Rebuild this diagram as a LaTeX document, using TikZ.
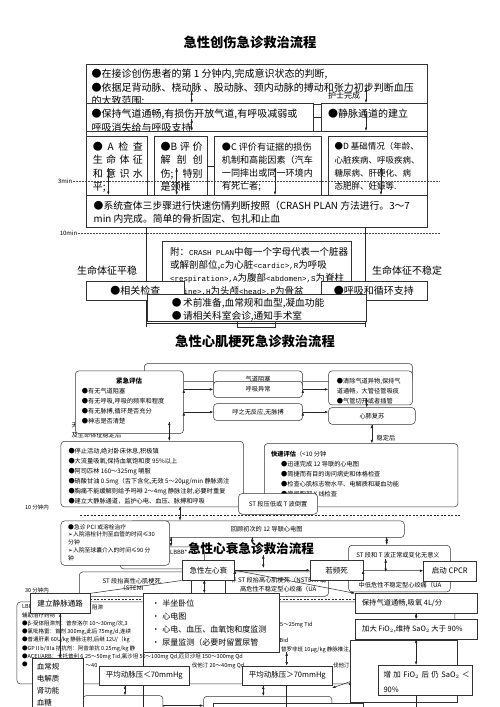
\documentclass[tikz,border=0pt]{standalone}
\usepackage{fontspec}
\setmainfont{Noto Sans CJK SC}
\newfontfamily\monof{Liberation Mono}
\newfontfamily\symf{DejaVu Sans}
\usepackage{tikz}
\usetikzlibrary{arrows.meta}

\newcommand{\tri}{{\symf ➢}}
\newcommand{\spread}[2]{\makebox[#1][s]{#2}}
\newcommand{\cm}[1]{{\monof\fontsize{7.5}{13.2}\selectfont #1}}

\tikzset{
	sq/.style={draw=black!80, fill=white, line width=0.5pt, inner sep=0pt, anchor=north west},
	rd/.style={sq, rounded corners=3.5pt},
	tx/.style={inner sep=0pt, anchor=north west, align=left},
	lbl/.style={inner sep=0pt},
	ttl/.style={inner sep=0pt, font=\fontsize{13.3}{16}\selectfont\bfseries},
	wire/.style={line width=0.5pt, draw=black!85},
	dotrule/.style={densely dotted, line width=0.5pt, draw=black!70},
	fa/.style={font=\fontsize{10}{13.4}\selectfont},
	fc/.style={font=\fontsize{9.1}{13.3}\selectfont},
	fd/.style={font=\fontsize{8.5}{13.3}\selectfont},
	fm/.style={font=\fontsize{9.5}{13.2}\selectfont},
	fs/.style={font=\fontsize{6.2}{10}\selectfont},
	fp/.style={font=\fontsize{5.8}{7.7}\selectfont},
	ft/.style={font=\fontsize{5.5}{8.3}\selectfont},
	fh/.style={font=\fontsize{7.5}{9}\selectfont},
}

\begin{document}
\begin{tikzpicture}[x=1pt, y=-1pt, >={Latex[length=3.5pt,width=2.6pt]}]
	\useasboundingbox[fill=white] (0,0) rectangle (500,707);

	\node[ttl] (ttl1) at (250, 42) {急性创伤急诊救治流程};

	\node[sq, minimum width=340.7pt, minimum height=40pt] (first) at (86, 64.3) {};
	\node[tx, fa] (firstT) at (91.5, 69) {●在接诊创伤患者的第 1 分钟内,完成意识状态的判断,\\●依据足背动脉、桡动脉 、股动脉、颈内动脉的搏动和张力初步判断血压\\的大致范围;};
	\node[lbl, font=\fontsize{8}{10}\selectfont] (nurse) at (344, 95.5) {护士完成};

	\node[sq, minimum width=227pt, minimum height=28.5pt] (airway) at (86, 103) {};
	\node[tx, fa] (airwayT) at (91.5, 109) {●保持气道通畅,有损伤开放气道,有呼吸减弱或\\呼吸消失给与呼吸支持};
	\node[sq, minimum width=106pt, minimum height=28pt] (vein) at (320.7, 103) {};
	\node[tx, fa] (veinT) at (328, 109) {●静脉通道的建立};

	\node[sq, minimum width=340.7pt, minimum height=64pt] (row) at (86, 131) {};

	\node[sq, minimum width=60.7pt, minimum height=59pt] (boxA) at (86, 136) {};
	\node[tx, fa] (boxAT) at (92.7, 141.7) {\spread{50pt}{● A 检 查}\\\spread{50pt}{生 命 体 征}\\\spread{50pt}{和 意 识 水}\\平;};
	\node[sq, minimum width=52.7pt, minimum height=59pt] (boxB) at (154, 136) {};
	\node[tx, fa] (boxBT) at (160.5, 141.7) {\spread{42pt}{●B 评 价}\\\spread{42pt}{解 剖 创}\\\spread{42pt}{伤; 特别}\\是颈椎};
	\node[sq, minimum width=106.7pt, minimum height=59pt] (boxC) at (214, 136) {};
	\node[tx, fc] (boxCT) at (221.7, 142.2) {●C 评价有证据的损伤\\机制和高能因素（汽车\\一同摔出或同一环境内\\有死亡者;};
	\node[sq, minimum width=98.7pt, minimum height=59pt] (boxD) at (328, 136) {};
	\node[tx, fd] (boxDT) at (334.3, 142.5) {●D 基础情况（年龄、\\心脏疾病、呼吸疾病、\\糖尿病、肝硬化、病\\态肥胖、妊娠等.};

	\node[sq, minimum width=340.7pt, minimum height=31.7pt] (survey) at (86, 195) {};
	\node[tx, font=\fontsize{9.8}{13.3}\selectfont] (surveyT) at (93.5, 201) {●系统查体三步骤进行快速伤情判断按照（CRASH PLAN 方法进行。3～7\\min 内完成。简单的骨折固定、包扎和止血};

	\coordinate (e1) at (146.7, 327);
	\coordinate (e2) at (365.7, 327);
	\coordinate (b1) at (146.7, 323);
	\coordinate (b2) at (365.7, 323);
	\draw[wire] (survey.south -| e1) -- (e1);
	\draw[wire] (survey.south -| e2) -- (e2);
	\node[sq, minimum width=37.7pt, minimum height=8.5pt] (tip) at (237.3, 318) {};

	\node[sq, minimum width=189pt, minimum height=55pt] (crash) at (161.7, 241) {};
	\node[tx, fm] (crashT) at (170, 247) {附：\cm{CRASH PLAN}中每一个字母代表一个脏器\\或解剖部位,\cm{c}为心脏\cm{<cardic>,R}为呼吸\\\cm{<respiration>,A}为腹部\cm{<abdomen>,S}为脊柱\\\cm{<spine>,H}为头颅\cm{<head>,P}为骨盆};

	\node[lbl, fa] (stable) at (107, 271) {生命体征平稳};
	\node[lbl, fa] (unstable) at (407, 271) {生命体征不稳定};

	\node[sq, fa, minimum width=98.3pt, minimum height=19.3pt] (check) at (86, 280.7) {●相关检查};
	\node[sq, fa, minimum width=106pt, minimum height=19.3pt] (support) at (320.7, 280.7) {●呼吸和循环支持};

	\node[sq, minimum width=219pt, minimum height=27pt] (preop) at (146.7, 294) {};
	\node[tx, font=\fontsize{9.7}{12.7}\selectfont] (preopT) at (171.7, 298.4) {●\hspace{1.5pt}术前准备,血常规和血型,凝血功能\\●\hspace{1.5pt}请相关科室会诊,通知手术室};
	\draw[wire] (b1) -- (b2);

	\coordinate (p1) at (191.7, 91);
	\coordinate (p2) at (366, 88);
	\coordinate (q1) at (191.7, 119);
	\coordinate (q2) at (366, 113);
	\coordinate (a1) at (108.3, 168);
	\coordinate (a2) at (176.7, 168);
	\coordinate (a3) at (275, 168);
	\coordinate (a4) at (381, 168);
	\path[->, wire] (p1) edge (p1 |- airway.north);
	\path[->, wire] (p2) edge (p2 |- vein.north);
	\path[->, wire] (q1) edge (q1 |- row.north);
	\path[->, wire] (q2) edge (q2 |- row.north);
	\path[->, wire] (a1) edge (a1 |- survey.north);
	\path[->, wire] (a2) edge (a2 |- survey.north);
	\path[->, wire] (a3) edge (a3 |- survey.north);
	\path[->, wire] (a4) edge (a4 |- survey.north);
	\path[wire] (airway.east) edge (airway.east -| vein.west);
	\path[wire] (boxB.east) edge (boxB.east -| boxC.west);

	\node[lbl, font=\fontsize{6}{7}\selectfont, anchor=east] (min3) at (72.5, 181) {3min};
	\coordinate (d3) at (440, 181);
	\draw[dotrule] (min3.east) -- (d3);
	\node[lbl, font=\fontsize{6}{7}\selectfont, anchor=east] (min10) at (77.5, 233.3) {10min};
	\coordinate (d10) at (440, 233.3);
	\draw[dotrule] (min10.east) -- (d10);

	\node[ttl] (ttl2) at (255, 341.7) {急性心肌梗死急诊救治流程};

	\node[rd, minimum width=268.3pt, minimum height=18pt] (loop) at (144, 363.3) {};
	\node[lbl, fs, anchor=west] (none) at (71.5, 425) {无};
	\node[lbl, fs, anchor=west] (after) at (71.5, 435) {及生命体征稳定后};
	\node[rd, minimum width=108.3pt, minimum height=62.6pt] (urgent) at (75, 370.7) {};
	\node[lbl, font=\fontsize{6.5}{8}\selectfont\bfseries] (urgentH) at (129, 381) {紧急评估};
	\node[tx, fs] (urgentT) at (81.7, 388) {●有无气道阻塞\\●有无呼吸,呼吸的频率和程度\\●有无脉搏,循环是否充分\\●神志是否清楚};
	\node[rd, fs, minimum width=89pt, minimum height=17pt] (blocked) at (213.3, 370.7) {气道阻塞};
	\node[rd, fs, minimum width=89pt, minimum height=16.3pt] (breath) at (213.3, 381) {呼吸异常};
	\node[rd, fs, minimum width=89pt, minimum height=17pt] (nopulse) at (213.3, 403.3) {呼之无反应,无脉搏};
	\node[rd, minimum width=84pt, minimum height=34pt] (clear) at (328.3, 370.7) {};
	\node[tx, fs] (clearT) at (336.7, 378) {●清除气道异物,保持气\\道通畅，大管径管吸痰\\●气管切开或者插管};
	\node[rd, fs, minimum width=86.7pt, minimum height=16.7pt] (cpr) at (328.3, 407.3) {心肺复苏};

	\path[->, wire] (breath.west -| urgent.east) edge (breath.west);
	\path[->, wire] (breath.east) edge (breath.east -| clear.west);
	\path[->, wire] (nopulse.west -| urgent.east) edge (nopulse.west);
	\path[->, wire] (nopulse.east) edge (nopulse.east -| cpr.west);
	\coordinate (c0) at (366.7, 398);
	\path[->, wire] (c0) edge (c0 |- cpr.north);

	\node[rd, minimum width=182.6pt, minimum height=65.7pt] (stop) at (60.7, 441) {};
	\node[tx, fs] (stopT) at (68.3, 448) {●停止活动,绝对卧床休息,积极镇\\●大流量吸氧,保持血氧饱和度 95\%以上\\●阿司匹林 160～325mg 嚼服\\●硝酸甘油 0.5mg（舌下含化,无效 5～20μg/min 静脉滴注\\●胸痛不能缓解则给予吗啡 2～4mg 静脉注射,必要时重复\\●建立大静脉通道，监护心电、血压、脉搏和呼吸};
	\node[rd, minimum width=193.7pt, minimum height=63.4pt] (rapid) at (264, 443.3) {};
	\node[tx, fs] (rapidT) at (271, 451.2) {{\bfseries 快速评估}（<10 分钟\\\hspace*{10pt}●迅速完成 12 导联的心电图\\\hspace*{10pt}●简捷而有目的询问病史和体格检查\\\hspace*{10pt}●检查心肌标志物水平、电解质和凝血功能\\\hspace*{10pt}●常规胸部 X 线检查};
	\node[rd, fs, minimum width=79pt, minimum height=20.7pt] (stdown) at (238.3, 493.3) {ST 段压低或 T 波倒置};

	\coordinate (u0) at (169.3, 421.7);
	\path[->, wire] (u0) edge (u0 |- stop.north);
	\path[->, wire] (cpr.south) edge (cpr.south |- rapid.north);
	\node[lbl, fs] (calm) at (386, 437.7) {稳定后};

	\node[lbl, ft] (in10) at (37, 507.3) {10 分钟内};
	\coordinate (h1) at (80, 515);
	\coordinate (h2) at (460, 515);
	\draw[wire, dash pattern=on 2pt off 1.5pt] (h1) -- (h2);

	\node[rd, fs, minimum width=275pt, minimum height=16.6pt] (review) at (129, 520.7) {回顾初次的 12 导联心电图};
	\node[rd, minimum width=84pt, minimum height=22pt] (lbbb) at (120, 546.7) {};
	\node[lbl, font=\fontsize{5.8}{7}\selectfont, anchor=west] (lbbbT) at (170, 552) {LBBB*};
	\node[rd, minimum width=108.6pt, minimum height=44.3pt] (pci) at (60.7, 520.7) {};
	\node[tx, fp] (pciT) at (68, 524.1) {●急诊 PCI 或溶栓治疗\\\tri 入院溶栓针剂至血管的时间≤30\\分钟\\\tri 入院至球囊介入的时间≤90 分\\钟};

	\node[rd, minimum width=101.7pt, minimum height=46.7pt] (stnorm) at (348.3, 545) {};
	\node[lbl, fs] (stnormT) at (398, 555) {ST 段和 T 波正常或变化无意义};
	\node[lbl, fs] (uaT) at (400, 585) {中低危性不稳定型心绞痛（UA};

	\node[rd, minimum width=249.3pt, minimum height=24.3pt] (stemi) at (79, 571.7) {};
	\node[lbl, align=center, font=\fontsize{6.2}{7.3}\selectfont] (stemiT) at (131.7, 584.7) {ST 段抬高性心肌梗死\\（STEMI};
	\node[lbl, align=center, font=\fontsize{6.2}{9.3}\selectfont] (nstemiT) at (278.3, 584.7) {非 ST 段抬高心肌梗死（NSTEMI 或\\高危性不稳定型心绞痛（UA};

	\coordinate (s0) at (180, 506.7);
	\coordinate (r1) at (171, 537.3);
	\coordinate (r2) at (252.3, 537.3);
	\coordinate (r2e) at (252.3, 544);
	\coordinate (r3) at (386.7, 537.3);
	\coordinate (t1) at (263.3, 555);
	\coordinate (t1e) at (263.3, 568);
	\coordinate (n1) at (385.7, 559);
	\coordinate (n1e) at (385.7, 572);
	\path[->, wire] (s0) edge (s0 |- review.north);
	\path[->, wire] (r1) edge (r1 |- lbbb.north);
	\path[->, wire] (r2) edge (r2e);
	\path[->, wire] (r3) edge (r3 |- stnorm.north);
	\path[->, wire] (t1) edge (t1e);
	\path[->, wire] (n1) edge (n1e);

	\node[rd, minimum width=438pt, minimum height=82pt] (drugs) at (16.7, 601.7) {};
	\node[tx, ft] (drugsT) at (22, 604.5) {LBBB\\辅助治疗药物\\●β-受体阻滞剂：普奈洛尔 10～30mg/次,3\\●氯吡格雷：首剂 300mg,此后 75mg/d,连续\\●普通肝素 60U/kg 静脉注射,后继 12U/（kg\\●GPⅡb/Ⅲa 拮抗剂：阿昔单抗 0.25mg/kg 静\\●ACEI/ARB：卡托普利 6.25～50mg Tid,氯沙坦 50～100mg Qd,厄贝沙坦 150～300mg Qd\\●};
	\node[tx, ft] (block) at (92, 604.5) {阻滞};
	\node[tx, ft] (drugsL) at (85.5, 663) {～40};
	\node[tx, ft] (drugsR1) at (280, 622.2) {5～25mg Tid};
	\node[tx, ft] (drugsR2) at (279.5, 638.3) {Bid};
	\node[tx, ft] (drugsR3) at (281, 646.5) {替罗非班 10μg/kg 静脉推注,继以 0.15μg/（kg·min 维持 48 小时};
	\node[tx, ft] (drugsM) at (191.7, 663) {伐他汀 20～40mg Qd};
	\node[tx, ft] (drugsR4) at (333, 663) {伐他汀};

	\node[sq, minimum width=106.7pt, minimum height=61.7pt] (side) at (350, 640) {};
	\node[lbl, ft] (yes) at (328, 676.7) {是};
	\node[rd, minimum width=80pt, minimum height=20pt] (lowL) at (82.7, 695.3) {};
	\node[rd, minimum width=128.3pt, minimum height=20pt] (lowM) at (203.3, 696) {};
	\node[sq, minimum width=150pt, minimum height=12pt] (lowN) at (213.3, 703.3) {};

	\coordinate (g1) at (90, 600);
	\coordinate (g2) at (355, 600);
	\draw[wire, dash pattern=on 2pt off 1.5pt, double, double distance=1pt] (g1) -- (g2);

	\node[ttl, font=\fontsize{12.6}{16}\selectfont\bfseries] (ttl3) at (251, 548.3) {急性心衰急诊救治流程};

	\node[lbl, ft] (in30) at (37, 590.5) {30 分钟内};
	\node[sq, minimum width=34.3pt, minimum height=21pt] (lhfBack) at (190.7, 575) {};
	\node[sq, fh, minimum width=52.6pt, minimum height=20pt] (lhf) at (181.7, 560) {急性左心衰};
	\node[sq, fh, minimum width=52.7pt, minimum height=20pt] (dying) at (310, 560) {若频死};
	\node[sq, fh, minimum width=52.4pt, minimum height=20pt] (cpcr) at (423.3, 560.5) {启动 CPCR};
	\node[sq, font=\fontsize{7.6}{9}\selectfont, minimum width=60pt, minimum height=19.4pt] (iv) at (30, 593.3) {建立静脉通路};
	\node[sq, minimum width=136pt, minimum height=59pt] (semi) at (143.3, 593.3) {};
	\node[tx, font=\fontsize{8}{13.1}\selectfont] (semiT) at (151.7, 599.3) {•\hspace{2.5pt}半坐卧位\\•\hspace{2.5pt}心电图\\•\hspace{2.5pt}心电、血压、血氧饱和度监测\\•\hspace{2.5pt}尿量监测（必要时留置尿管};
	\node[sq, minimum width=121.7pt, minimum height=19.4pt] (keep) at (355, 593.3) {};
	\node[tx, font=\fontsize{7.3}{9}\selectfont] (keepT) at (361.7, 599.3) {保持气道通畅,吸氧 4L/分};
	\node[sq, minimum width=121.7pt, minimum height=19.7pt] (more) at (355, 619.3) {};
	\node[tx, font=\fontsize{7.3}{9}\selectfont] (moreT) at (362, 625.3) {加大 FiO$_2$,维持 SaO$_2$ 大于 90\%};
	\node[sq, minimum width=51pt, minimum height=60pt] (blood) at (31.7, 658.3) {};
	\node[tx, font=\fontsize{7.5}{12.1}\selectfont] (bloodT) at (36.7, 662.6) {血常规\\电解质\\肾功能\\血糖};

	\coordinate (v1) at (143.3, 707);
	\draw[wire] (semi.south west) -- (v1);
	\node[sq, fh, minimum width=90pt, minimum height=19.3pt] (avgLo) at (99, 665.7) {平均动脉压＜70mmHg};
	\node[sq, fh, minimum width=90.6pt, minimum height=19.3pt] (avgHi) at (241.7, 665.7) {平均动脉压＞70mmHg};
	\node[sq, minimum width=94pt, minimum height=30pt] (inc) at (377.7, 665) {};
	\node[tx, font=\fontsize{7.5}{15}\selectfont] (incT) at (383.3, 671.3) {\spread{86pt}{增 加 FiO$_2$ 后 仍 SaO$_2$ ＜}\\90\%};

	\path[->, wire] (lhf.east) edge (dying.west);
	\path[->, wire] (dying.east) edge (cpcr.west);
	\path[->, wire] (lhf.east) edge (keep.north west);
	\path[wire] (iv.north east) edge (lhf.south west);
	\coordinate (l1) at (204.3, 580);
	\path[->, wire] (l1) edge (l1 |- semi.north);
	\path[->, wire] (keep.south) edge (more.north);
	\path[->, wire] (more.south) edge (more.south |- inc.north);
	\path[->, wire] (iv.south) edge (iv.south |- blood.north);
	\coordinate (i1) at (415.85, 707);
	\path[wire] (inc.south -| i1) edge (i1);

	\coordinate (w1) at (286.7, 652.3);
	\coordinate (w2) at (286.7, 707);
	\path[->, wire] (w1) edge (w1 |- avgHi.north);
	\path[wire] (avgHi.south -| w1) edge (w2);
	\coordinate (k1) at (125, 700);
	\coordinate (k2) at (263.3, 700);
	\path[->, wire] (avgLo.south -| k1) edge (k1 |- lowL.north);
	\path[->, wire] (avgHi.south -| k2) edge (k2 |- lowM.north);
	\path[->, wire] (lowL.east) edge (lowL.east -| lowM.west);
	\coordinate (y1) at (350, 681.7);
	\coordinate (y2) at (332, 688);
	\path[->, wire] (y1) edge (y2);

\end{tikzpicture}
\end{document}
